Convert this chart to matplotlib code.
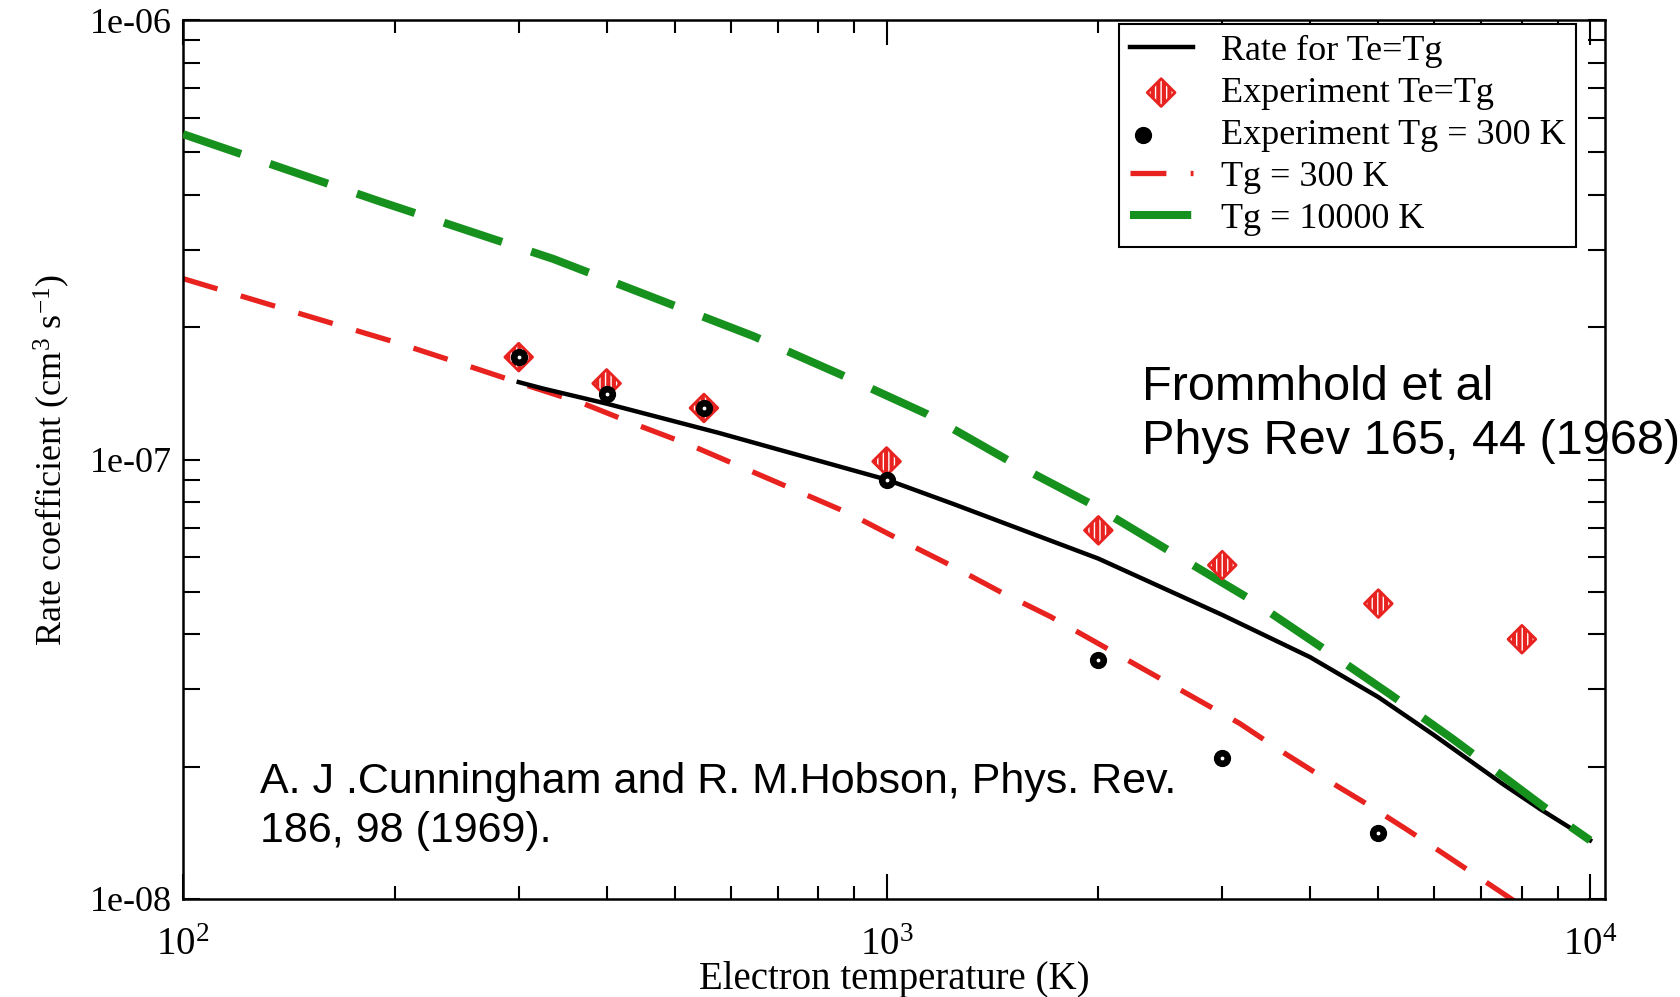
import numpy as np
import matplotlib
matplotlib.use("Agg")
import matplotlib.pyplot as plt
from matplotlib.ticker import FixedLocator, FixedFormatter, LogLocator, NullFormatter
from matplotlib.legend_handler import HandlerTuple

plt.rcParams["font.family"] = ["Liberation Serif", "DejaVu Serif"]
plt.rcParams["mathtext.fontset"] = "custom"
plt.rcParams["mathtext.rm"] = "Liberation Serif"
plt.rcParams["mathtext.it"] = "Liberation Serif:italic"
plt.rcParams["hatch.linewidth"] = 3.0

# rate for Te = Tg (black solid)
t_rate = [300, 325, 400, 577, 1000, 1250, 2000, 3000, 4000, 5000, 6000, 7500, 8500, 10000]
k_rate = [1.50e-7, 1.45e-7, 1.34e-7, 1.15e-7, 9.0e-8, 7.9e-8, 5.95e-8, 4.43e-8,
          3.55e-8, 2.88e-8, 2.36e-8, 1.83e-8, 1.60e-8, 1.36e-8]

# experiment Te = Tg (red diamonds)
t_exp_te = [300, 400, 550, 1000, 2000, 3000, 5000, 8000]
k_exp_te = [1.71e-7, 1.49e-7, 1.31e-7, 9.9e-8, 6.9e-8, 5.75e-8, 4.7e-8, 3.9e-8]

# experiment Tg = 300 K (black circles)
t_exp_300 = [300, 400, 550, 1000, 2000, 3000, 5000]
k_exp_300 = [1.71e-7, 1.41e-7, 1.31e-7, 8.97e-8, 3.5e-8, 2.09e-8, 1.41e-8]

# Tg = 300 K (red dashed)
t_300 = [100, 200, 258, 310, 371, 441, 525, 628, 745, 883, 1040, 1232, 1451,
         1710, 2013, 3175, 3655, 4195, 4800, 5485, 6225, 7800]
k_300 = [2.58e-7, 1.85e-7, 1.62e-7, 1.47e-7, 1.34e-7, 1.20e-7, 1.08e-7, 9.55e-8,
         8.49e-8, 7.55e-8, 6.59e-8, 5.75e-8, 5.0e-8, 4.39e-8, 3.79e-8, 2.51e-8,
         2.16e-8, 1.88e-8, 1.65e-8, 1.44e-8, 1.26e-8, 9.9e-9]

# Tg = 10000 K (green dashed)
t_10000 = [100, 190, 336, 646, 861, 1140, 1503, 1968, 2555, 3300, 4150, 5200,
           6410, 7730, 9270, 10000]
k_10000 = [5.5e-7, 3.87e-7, 2.86e-7, 1.91e-7, 1.56e-7, 1.27e-7, 9.87e-8, 7.87e-8,
           6.12e-8, 4.79e-8, 3.74e-8, 2.92e-8, 2.30e-8, 1.84e-8, 1.48e-8, 1.36e-8]

y_ticks = [1e-8, 1e-7, 1e-6]
y_tick_labels = ["1e-08", "1e-07", "1e-06"]

RED = "#e8231f"
GREEN = "#17911d"

fig = plt.figure(figsize=(16.81, 9.97), dpi=100)
ax = fig.add_axes([0.1089, 0.0983, 0.8459, 0.8816])

red_line, = ax.plot(t_300, k_300, color=RED, lw=3.8, dashes=(6.8, 4.6), zorder=2)
black_line, = ax.plot(t_rate, k_rate, color="black", lw=3.2, zorder=3)
green_line, = ax.plot(t_10000, k_10000, color=GREEN, lw=5.8, dashes=(7.6, 3.8), zorder=3.5)

diamonds = ax.scatter(t_exp_te, k_exp_te, marker="D", s=200, facecolor="white",
                      edgecolor=RED, linewidth=2, hatch="|||", zorder=4)
circles = ax.scatter(t_exp_300, k_exp_300, marker="o", s=130, color="black", zorder=5)
dots = ax.scatter(t_exp_300, k_exp_300, marker="o", s=3, color="white", zorder=6)

ax.set_xscale("log")
ax.set_yscale("log")
ax.set_xlim(100, 10500)
ax.set_ylim(1e-8, 1e-6)

ax.yaxis.set_major_locator(FixedLocator(y_ticks))
ax.yaxis.set_major_formatter(FixedFormatter(y_tick_labels))
ax.yaxis.set_minor_locator(LogLocator(base=10, subs=np.arange(2, 10)))
ax.yaxis.set_minor_formatter(NullFormatter())
ax.xaxis.set_minor_formatter(NullFormatter())

ax.tick_params(which="both", direction="in", top=True, right=True, width=1.5)
ax.tick_params(axis="x", which="major", length=18, labelsize=28, pad=20)
ax.tick_params(axis="x", which="minor", length=9.5)
ax.tick_params(axis="y", which="both", length=12)
ax.tick_params(axis="y", which="major", labelsize=26, pad=8)
for sp in ax.spines.values():
    sp.set_linewidth(1.8)

ax.set_xlabel("Electron temperature (K)", fontsize=28)
ax.set_ylabel(r"Rate coefficient (cm$^{3}$ s$^{-1}$)", fontsize=26)
ax.xaxis.set_label_coords(0.5, -0.070)
ax.yaxis.set_label_coords(-0.078, 0.5)

leg = ax.legend([black_line, diamonds, (circles, dots), red_line, green_line],
                ["Rate for Te=Tg", "Experiment Te=Tg", "Experiment Tg = 300 K",
                 "Tg = 300 K", "Tg = 10000 K"],
                loc="upper right", bbox_to_anchor=(0.9796, 0.9955), borderaxespad=0,
                fontsize=26, fancybox=False, edgecolor="black", framealpha=1,
                handlelength=1.75, handletextpad=0.77, borderpad=0.3,
                labelspacing=0.24, scatterpoints=1,
                handler_map={tuple: HandlerTuple(ndivide=None)})
leg.get_frame().set_linewidth(1.5)

fig.text(0.6794, 0.634, "Frommhold et al\nPhys Rev 165, 44 (1968)",
         family=["Liberation Sans", "DejaVu Sans"], fontsize=35,
         ha="left", va="top", linespacing=1.27)
fig.text(0.1547, 0.236, "A. J .Cunningham and R. M.Hobson, Phys. Rev.\n186, 98 (1969).",
         family=["Liberation Sans", "DejaVu Sans"], fontsize=31,
         ha="left", va="top", linespacing=1.3)

fig.savefig("out.png", dpi=100)
